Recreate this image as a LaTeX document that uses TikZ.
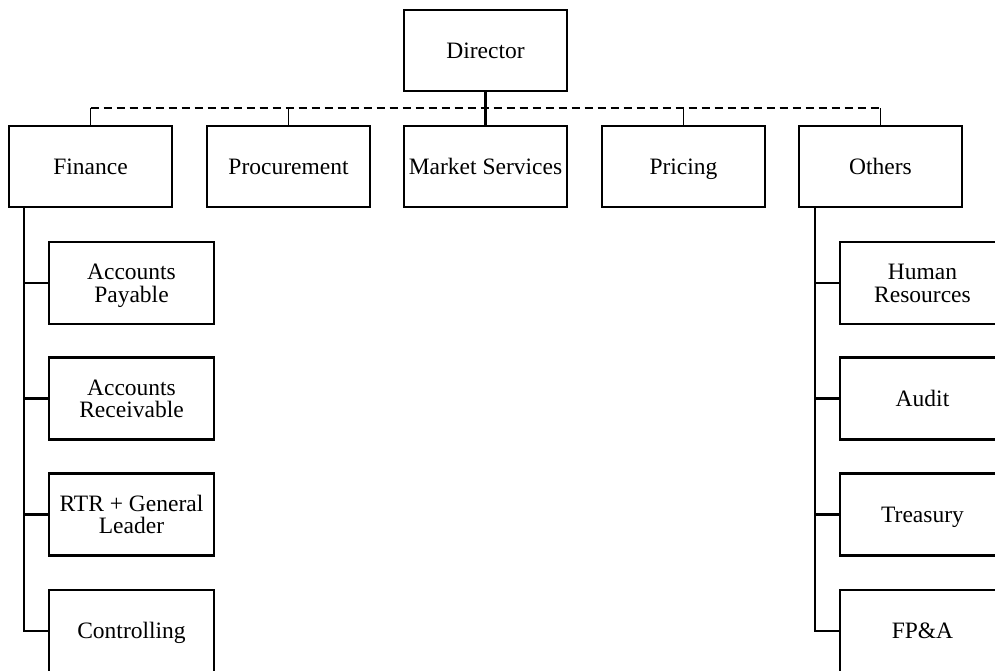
\documentclass[tikz,border=0pt]{standalone}
\usepackage{fontspec}
\setmainfont{Liberation Serif}
\tikzset{
  unit/.style={shape=rectangle, draw, line width=2.4pt, minimum width=163pt, minimum height=81pt, inner sep=0pt, align=center, text height=15.5pt, text depth=0pt, font=\fontsize{23.5}{22.5}\selectfont},
  subunit/.style={unit, minimum width=165pt, minimum height=82pt},
  twoline/.style={text height=38pt},
  link/.style={line width=2.4pt},
  bus/.style={line width=2pt, dash pattern=on 8pt off 5pt},
  tick/.style={line width=1.4pt}
}
\begin{document}
\begin{tikzpicture}[x=1pt, y=-1pt]
    \useasboundingbox (0, 0) rectangle (995, 670);
    \clip (0, 0) rectangle (995, 670);

    \node (dir) [unit] at (485.5, 50.5) {Director};

    \pgfmathsetmacro{\yt}{166.5};
    \node (fin) [unit] at (90.5, \yt) {Finance};
    \node (proc) [unit] at (288.5, \yt) {Procurement};
    \node (mkt) [unit] at (485.5, \yt) {Market Services};
    \node (pri) [unit] at (683.5, \yt) {Pricing};
    \node (oth) [unit] at (880.5, \yt) {Others};

    % dashed bus under the director
    \coordinate (bus) at (0, 108);
    \draw [bus] (fin.north |- bus) -- (oth.north |- bus);
    \foreach \n in {fin, proc, pri, oth}
        \draw [tick] (\n.north) -- (\n.north |- bus);
    \draw [link, line width=3.5pt] (dir) -- (mkt);

    \pgfmathsetmacro{\xl}{131.5};
    \node (ap) [subunit, twoline] at (\xl, 283) {Accounts\\Payable};
    \node (ar) [subunit, twoline] at (\xl, 398.5) {Accounts\\Receivable};
    \node (rtr) [subunit, twoline] at (\xl, 514.5) {RTR + General\\Leader};
    \node (ctl) [subunit] at (\xl, 631) {Controlling};

    \pgfmathsetmacro{\xr}{922.5};
    \node (hr) [subunit, twoline] at (\xr, 283) {Human\\Resources};
    \node (aud) [subunit] at (\xr, 398.5) {Audit};
    \node (tre) [subunit] at (\xr, 514.5) {Treasury};
    \node (fpa) [subunit] at (\xr, 631) {FP\&A};

    \coordinate (fint) at ([xshift=16pt]fin.south west);
    \coordinate (otht) at ([xshift=17pt]oth.south west);
    \foreach \s in {ap, ar, rtr, ctl}
        \draw [link] (fint) |- (\s.west);
    \foreach \s in {hr, aud, tre, fpa}
        \draw [link] (otht) |- (\s.west);

\end{tikzpicture}
\end{document}
